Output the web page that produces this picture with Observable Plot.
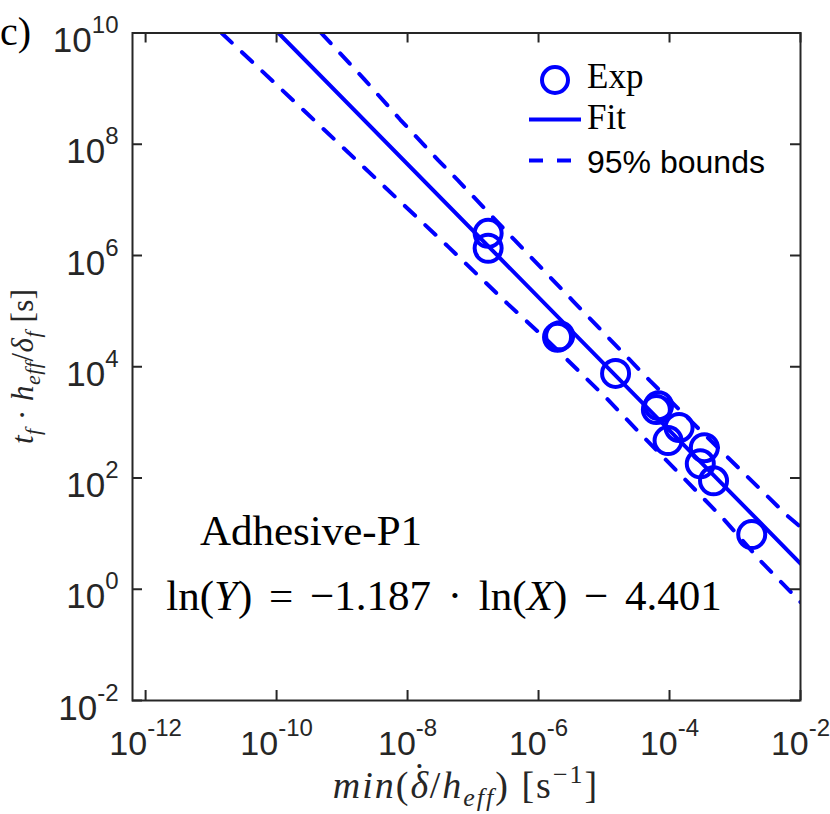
<!DOCTYPE html>
<html><head><meta charset="utf-8">
<script src="https://cdn.jsdelivr.net/npm/d3@7"></script>
<script src="https://cdn.jsdelivr.net/npm/@observablehq/plot@0.6"></script>
<style>body{margin:0;background:#fff}</style>
</head><body><div id="chart"></div>
<script>
// ---- data ----
const expX = [1.7e-7, 1.7e-7, 2.1e-6, 1.95e-6, 1.5e-5, 6.8e-5, 6.3e-5, 1.4e-4, 9.5e-5, 3.4e-4, 2.95e-4, 4.7e-4, 1.8e-3];
const expY = [2.5e6, 1.35e6, 3.6e4, 3.4e4, 7.6e3, 2.0e3, 1.7e3, 8.1e2, 4.7e2, 3.5e2, 1.8e2, 89, 9.6];
const fitX = [1.07e-10, 1e-2];
const fitY = [1e10, 2.9];
const upperLogX = [-9.32, -8.67, -8.11, -7.53, -7.23, -6.36, -5.48, -4.30, -3.11, -2.20, -2.00];
const upperLogY = [10.0, 9.18, 8.44, 7.71, 7.35, 6.27, 5.19, 3.75, 2.37, 1.32, 1.12];
const lowerLogX = [-10.84, -9.55, -8.32, -7.38, -6.47, -5.86, -4.95, -4.39, -3.18, -2.61, -2.05, -2.00];
const lowerLogY = [10.0, 8.57, 7.20, 6.16, 5.13, 4.47, 3.42, 2.73, 1.27, 0.51, -0.17, -0.23];
const xTicks = [1e-12, 1e-10, 1e-8, 1e-6, 1e-4, 1e-2];
const yTicks = [1e-2, 1, 1e2, 1e4, 1e6, 1e8, 1e10];
const legendLabels = ["Exp", "Fit", "95% bounds"];

// ---- build tables ----
const exp = expX.map((x, i) => ({x, y: expY[i]}));
const fit = fitX.map((x, i) => ({x, y: fitY[i]}));
const upper = upperLogX.map((e, i) => ({x: 10 ** e, y: 10 ** upperLogY[i]}));
const lower = lowerLogX.map((e, i) => ({x: 10 ** e, y: 10 ** lowerLogY[i]}));

const sans = "'Liberation Sans', Arial, Helvetica, sans-serif";
const serif = "'Liberation Serif', 'Times New Roman', serif";
const blue = "#0000ff";
const ax = "#262626";
const W = 830, H = 814, mL = 132, mR = 30, mT = 32.5, mB = 114;
const fw = W - mL - mR, fh = H - mT - mB, tl = 10;
const expo = d => "10^" + Math.round(Math.log10(d));

const plot = Plot.plot({
  width: W, height: H,
  marginLeft: mL, marginRight: mR, marginTop: mT, marginBottom: mB,
  x: {type: "log", domain: [10 ** -12.2, 1e-2]},
  y: {type: "log", domain: [1e-2, 1e10]},
  style: {fontFamily: sans, background: "white", color: ax},
  marks: [
    Plot.line(upper, {x: "x", y: "y", stroke: blue, strokeWidth: 4, strokeDasharray: "14,14", clip: true}),
    Plot.line(lower, {x: "x", y: "y", stroke: blue, strokeWidth: 4, strokeDasharray: "14,14", clip: true}),
    Plot.line(fit, {x: "x", y: "y", stroke: blue, strokeWidth: 4, clip: true}),
    Plot.dot(exp, {x: "x", y: "y", r: 13.5, stroke: blue, strokeWidth: 4, fill: "none"}),
    Plot.tickX(xTicks, {x: d => d, insetTop: fh - tl, stroke: ax, strokeWidth: 2}),
    Plot.tickX(xTicks, {x: d => d, insetBottom: fh - tl, stroke: ax, strokeWidth: 2}),
    Plot.tickY(yTicks, {y: d => d, insetRight: fw - tl, stroke: ax, strokeWidth: 2}),
    Plot.tickY(yTicks, {y: d => d, insetLeft: fw - tl, stroke: ax, strokeWidth: 2}),
    Plot.frame({stroke: ax, strokeWidth: 2}),
    Plot.axisX({anchor: "bottom", ticks: xTicks, tickSize: 0, tickPadding: 30, fontSize: 34, tickFormat: expo, label: null, fill: ax}),
    Plot.axisY({anchor: "left", ticks: yTicks, tickSize: 0, tickPadding: 14, fontSize: 35, tickFormat: expo, label: null, dy: 8, fill: ax})
  ]
});

const svg = d3.select(plot);
// superscript tick labels
svg.selectAll('g[aria-label="x-axis tick label"] text, g[aria-label="y-axis tick label"] text').each(function() {
  const [b, e] = this.textContent.split("^");
  const t = d3.select(this);
  t.text(null);
  t.append("tspan").text(b);
  t.append("tspan").attr("dy", -19).attr("font-size", 24).text(e);
});

function rich(g, parts) {
  let cur = 0;
  for (const p of parts) {
    const sh = p.sh || 0;
    const ts = g.append("tspan").text(p.t);
    if (sh !== cur) ts.attr("dy", sh - cur);
    if (p.dx) ts.attr("dx", p.dx);
    cur = sh;
    if (p.i) ts.attr("font-style", "italic");
    if (p.fs) ts.attr("font-size", p.fs);
  }
}

// panel letter
svg.append("text").attr("x", 0).attr("y", 45).attr("text-anchor", "start")
  .attr("font-family", serif).attr("font-size", 40).attr("fill", "#000").text("c)");

// y label
const yl = svg.append("text").attr("transform", `translate(33,${mT + fh / 2}) rotate(-90)`)
  .attr("text-anchor", "middle").attr("font-family", serif).attr("font-size", 31).attr("fill", ax)
  .attr("letter-spacing", 0.5);
rich(yl, [
  {t: "t", i: 1}, {t: "f", i: 1, sh: 7, fs: 22}, {t: " · "}, {t: "h", i: 1},
  {t: "eff", i: 1, sh: 7, fs: 22}, {t: "/"}, {t: "δ", i: 1}, {t: "f", i: 1, sh: 7, fs: 22}, {t: " [s]"}
]);

// x label
const xl = svg.append("text").attr("x", mL + fw / 2).attr("y", 798)
  .attr("text-anchor", "middle").attr("font-family", serif).attr("font-size", 38).attr("fill", ax)
  .attr("letter-spacing", 2);
rich(xl, [
  {t: "min", i: 1}, {t: "("}, {t: "δ", i: 1}, {t: "˙", sh: -9, dx: -17}, {t: "/", dx: 2}, {t: "h", i: 1},
  {t: "eff", i: 1, sh: 8, fs: 26}, {t: ") [s"}, {t: "−1", sh: -15, fs: 26}, {t: "]"}
]);

// annotations
svg.append("text").attr("x", 311).attr("y", 545).attr("text-anchor", "middle")
  .attr("font-family", serif).attr("font-size", 43).attr("fill", "#000").text("Adhesive-P1");
const eq = svg.append("text").attr("x", 444).attr("y", 610).attr("text-anchor", "middle")
  .attr("font-family", serif).attr("font-size", 43).attr("fill", "#000").attr("word-spacing", 6);
rich(eq, [
  {t: "ln("}, {t: "Y", i: 1}, {t: ") = −1.187 · ln("}, {t: "X", i: 1}, {t: ") − 4.401"}
]);

// legend
const lg = svg.append("g").attr("text-anchor", "start").attr("fill", "#000");
lg.append("circle").attr("cx", 555).attr("cy", 80).attr("r", 13).attr("fill", "none").attr("stroke", blue).attr("stroke-width", 4);
lg.append("line").attr("x1", 529).attr("x2", 581).attr("y1", 119.5).attr("y2", 119.5).attr("stroke", blue).attr("stroke-width", 4);
lg.append("line").attr("x1", 529).attr("x2", 581).attr("y1", 160.5).attr("y2", 160.5).attr("stroke", blue).attr("stroke-width", 4).attr("stroke-dasharray", "14,14");
lg.append("text").attr("x", 587).attr("y", 88).attr("font-family", serif).attr("font-size", 35).text(legendLabels[0]);
lg.append("text").attr("x", 587).attr("y", 129).attr("font-family", serif).attr("font-size", 35).text(legendLabels[1]);
lg.append("text").attr("x", 587).attr("y", 173).attr("font-family", sans).attr("font-size", 32).text(legendLabels[2]);

document.getElementById("chart").appendChild(plot);
</script>
</body></html>
